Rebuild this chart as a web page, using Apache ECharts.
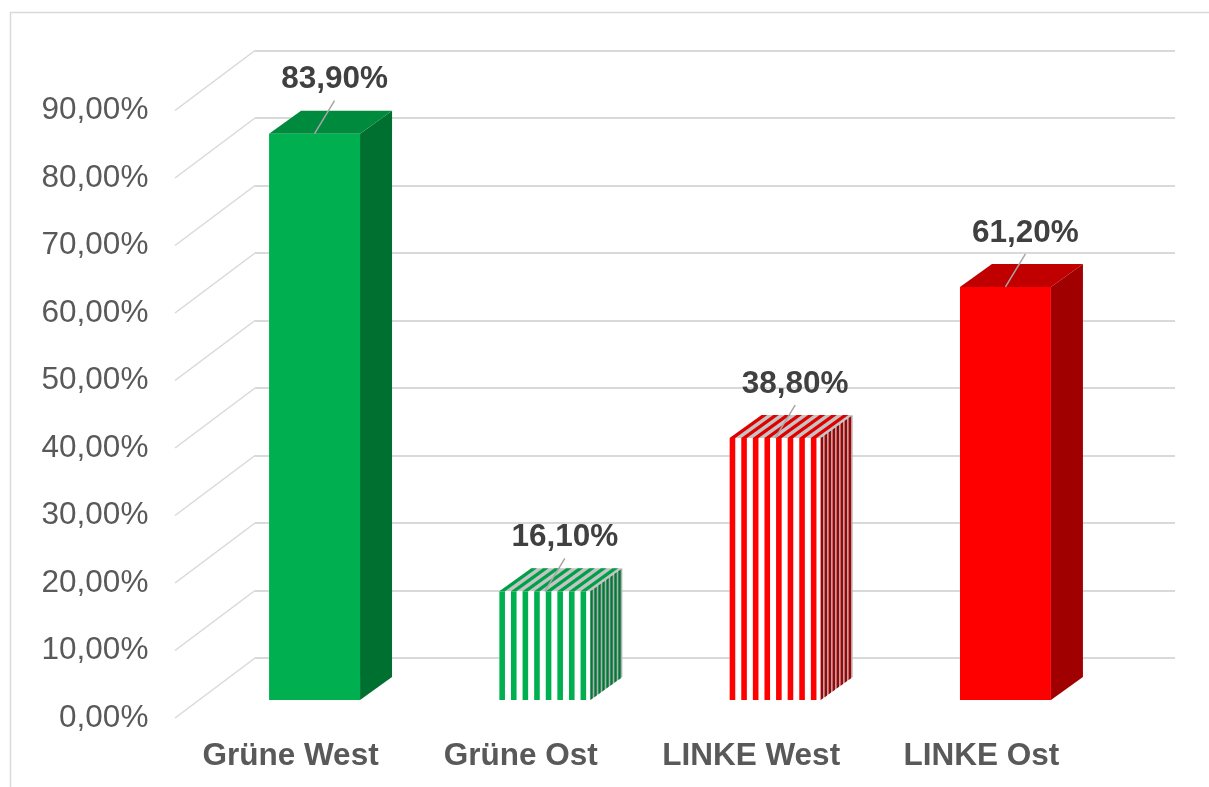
<!DOCTYPE html>
<html>
<head>
<meta charset="utf-8">
<script src="https://cdn.jsdelivr.net/npm/echarts@6/dist/echarts.min.js"></script>
<style>
  html, body { margin: 0; padding: 0; background: #fff; }
  #chart { width: 1209px; height: 787px; }
</style>
</head>
<body>
<div id="chart"></div>
<script>
// Stimmenanteile in Prozent
const categories = ['Grüne West', 'Grüne Ost', 'LINKE West', 'LINKE Ost'];
const shares = [83.9, 16.1, 38.8, 61.2];
const yTicks = [0, 10, 20, 30, 40, 50, 60, 70, 80, 90];

// Aussehen pro Balken (gestreift = Ost/West-Vergleich)
const barLooks = [
  { front: '#00b050', top: '#008a3e', side: '#007030', striped: false },
  { front: '#00b050', top: '#00a048', side: '#007a38', striped: true },
  { front: '#ff0000', top: '#e00000', side: '#a80000', striped: true },
  { front: '#ff0000', top: '#c00000', side: '#a00000', striped: false }
];

const FONT = '"Liberation Sans", Arial, sans-serif';
const DEPTH = [32, -23];   // Versatz der Balkenrückseite
const WALL = [80, -60];    // Versatz vorne -> Rückwand

function fmtPct(v) {
  return v.toFixed(2).replace('.', ',') + '%';
}

function renderBar(params, api) {
  const i = api.value(0);
  const v = api.value(1);
  const look = barLooks[i];
  const top = api.coord([i, v]);
  const base = api.coord([i, 0]);
  const bw = api.size([1, 0])[0] * 0.395;
  const x0 = top[0] - bw / 2, x1 = top[0] + bw / 2;
  const ty = top[1], by = base[1];
  const dx = DEPTH[0], dy = DEPTH[1];
  const kids = [];

  const frontPts = [[x0, ty], [x1, ty], [x1, by], [x0, by]];
  const sidePts = [[x1, ty], [x1 + dx, ty + dy], [x1 + dx, by + dy], [x1, by]];
  const topPts = [[x0, ty], [x0 + dx, ty + dy], [x1 + dx, ty + dy], [x1, ty]];

  if (!look.striped) {
    kids.push({ type: 'polygon', shape: { points: sidePts }, style: { fill: look.side } });
    kids.push({ type: 'polygon', shape: { points: topPts }, style: { fill: look.top } });
    kids.push({ type: 'polygon', shape: { points: frontPts }, style: { fill: look.front } });
  } else {
    // Grund
    kids.push({ type: 'polygon', shape: { points: sidePts }, style: { fill: '#b0b0b0' } });
    kids.push({ type: 'polygon', shape: { points: topPts }, style: { fill: '#c4c4c4' } });
    kids.push({ type: 'polygon', shape: { points: frontPts }, style: { fill: '#ffffff' } });
    const period = 11.6, sw = 5.6;
    for (let sx = x0; sx < x1; sx += period) {
      const ex = Math.min(sx + sw, x1);
      kids.push({ type: 'polygon', shape: { points: [[sx, ty], [ex, ty], [ex, by], [sx, by]] }, style: { fill: look.front } });
      kids.push({ type: 'polygon', shape: { points: [[sx, ty], [ex, ty], [ex + dx, ty + dy], [sx + dx, ty + dy]] }, style: { fill: look.top } });
    }
    for (let sx = x1; sx < x1 + dx; sx += 4) {
      const ex = Math.min(sx + 2.4, x1 + dx);
      const oa = dy * (sx - x1) / dx, ob = dy * (ex - x1) / dx;
      kids.push({ type: 'polygon', shape: { points: [[sx, ty + oa], [ex, ty + ob], [ex, by + ob], [sx, by + oa]] }, style: { fill: look.side } });
    }
  }

  // Datenbeschriftung mit Führungslinie
  kids.push({
    type: 'line',
    shape: { x1: top[0] + 20, y1: ty - 33, x2: top[0], y2: ty },
    style: { stroke: '#a6a6a6', lineWidth: 1.5 }
  });
  kids.push({
    type: 'text',
    x: top[0] + 20, y: ty - 54,
    style: {
      text: fmtPct(v), fill: '#404040', font: 'bold 31.5px ' + FONT,
      align: 'center', verticalAlign: 'middle'
    }
  });
  return { type: 'group', children: kids };
}

function renderDiagonal(params, api) {
  const p = api.coord([0, api.value(0)]);
  return {
    type: 'line',
    shape: { x1: p[0] - WALL[0], y1: p[1] - WALL[1], x2: p[0], y2: p[1] },
    style: { stroke: '#d9d9d9', lineWidth: 1.5 }
  };
}

const chart = echarts.init(document.getElementById('chart'));

chart.setOption({
  backgroundColor: '#fff',
  animation: false,
  graphic: [{
    type: 'rect',
    shape: { x: 10.5, y: 12.5, width: 1240, height: 800 },
    style: { fill: 'none', stroke: '#d9d9d9', lineWidth: 1.5 },
    z: -10
  }],
  grid: [
    // Rückwand
    { left: 255, right: 34, top: 50.5, bottom: 129 },
    // Balkenvorderseite
    { left: 199.4, right: 88.4, top: 92.5, bottom: 87 },
    // vordere Kante (Beschriftungen)
    { left: 175.4, right: 112.4, top: 110.5, bottom: 69 }
  ],
  xAxis: [
    { gridIndex: 0, type: 'value', min: 0, max: 1, show: false },
    { gridIndex: 1, type: 'category', data: categories, show: false },
    {
      gridIndex: 2, type: 'category', data: categories,
      axisLine: { show: false }, axisTick: { show: false },
      axisLabel: { interval: 0, margin: 22, color: '#595959', fontSize: 31.5, fontWeight: 'bold', fontFamily: FONT }
    }
  ],
  yAxis: [
    {
      gridIndex: 0, type: 'value', min: 0, max: 90, interval: 10,
      axisLine: { show: false }, axisTick: { show: false }, axisLabel: { show: false },
      splitLine: { show: true, lineStyle: { color: '#d9d9d9', width: 2 } }
    },
    { gridIndex: 1, type: 'value', min: 0, max: 90, interval: 10, show: false },
    {
      gridIndex: 2, type: 'value', min: 0, max: 90, interval: 10,
      axisLine: { show: false }, axisTick: { show: false }, splitLine: { show: false },
      axisLabel: { margin: 27, color: '#595959', fontSize: 31.5, fontFamily: FONT, formatter: fmtPct }
    }
  ],
  series: [
    {
      type: 'custom', xAxisIndex: 0, yAxisIndex: 0, z: 1,
      data: yTicks.map(t => [t]),
      encode: { y: 0 },
      renderItem: renderDiagonal,
      silent: true
    },
    {
      type: 'custom', xAxisIndex: 1, yAxisIndex: 1, z: 5,
      data: shares.map((v, i) => [i, v]),
      encode: { x: 0, y: 1 },
      renderItem: renderBar,
      silent: true
    }
  ]
});
</script>
</body>
</html>
